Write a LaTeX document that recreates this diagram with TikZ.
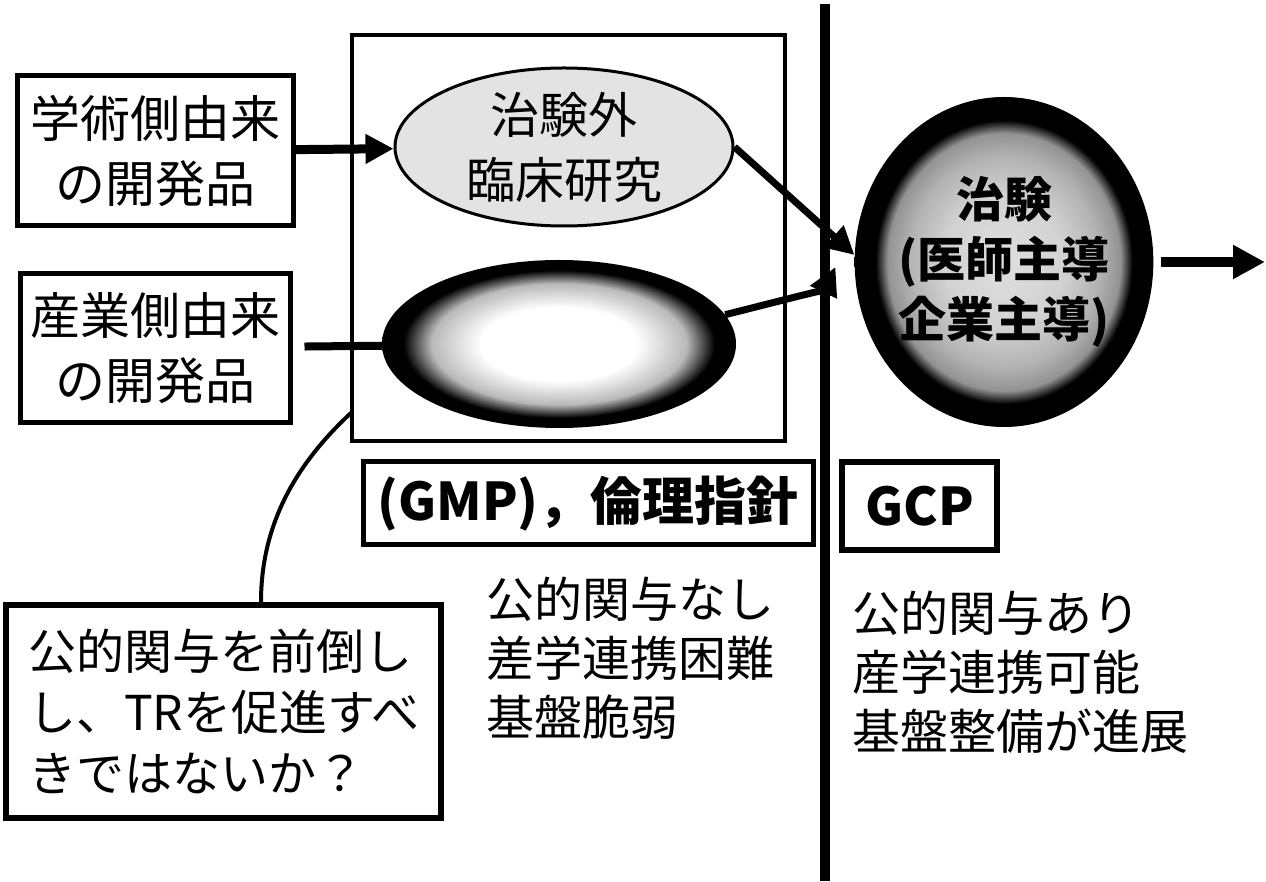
\documentclass[tikz,border=0pt]{standalone}
\usepackage{fontspec}
\usepackage{tikz}
\usetikzlibrary{shapes.geometric, arrows.meta, positioning, calc}
\newfontfamily\jpfont{Noto Sans CJK JP}

\pgfdeclareradialshading{darkrim}{\pgfpointorigin}{color(0bp)=(white); color(11bp)=(white); color(18bp)=(gray!55); color(22bp)=(black); color(25bp)=(black); color(50bp)=(black)}
\pgfdeclareradialshading{trialrim}{\pgfpointorigin}{color(0bp)=(gray!25); color(10bp)=(gray!35); color(16bp)=(gray!60); color(19.5bp)=(gray!85); color(21.5bp)=(black); color(50bp)=(black)}

\tikzset{
  srcbox/.style={draw, line width=5pt, align=center, inner sep=0pt, font=\jpfont\fontsize{50}{65}\selectfont},
  rulebox/.style={draw, inner sep=0pt, font=\jpfont\bfseries\fontsize{52}{60}\selectfont},
  plain/.style={anchor=west, align=left, inner sep=0pt, font=\jpfont\fontsize{48}{59}\selectfont},
  arr/.style={-{Triangle[length=28pt, width=28pt]}},
  bigarr/.style={-{Triangle[length=32pt, width=32pt]}}
}

\begin{document}
\begin{tikzpicture}[x=1pt, y=1pt]
\useasboundingbox (0,0) rectangle (1266,881);

% sources
\node[srcbox, minimum width=276pt, minimum height=150pt] (acad) at (155,730) {学術側由来\\の開発品};
\node[srcbox, minimum width=270pt, minimum height=149pt] (ind) at (155,533) {産業側由来\\の開発品};

% outside the trials
\draw[line width=4pt] (352,440) rectangle (785,846);
\node[ellipse, draw, line width=3pt, fill=gray!22, minimum width=338pt, minimum height=158pt, inner sep=0pt, align=center, font=\jpfont\fontsize{49}{65}\selectfont] (clin) at (564,734) {治験外\\臨床研究};
\node[ellipse, shading=darkrim, minimum width=354pt, minimum height=168pt] (dark) at (559,537) {};
\coordinate (edge) at (352,469);

% separator
\draw[line width=10pt] (825,877) -- (825,0);

% trials
\node[ellipse, shading=trialrim, minimum width=276pt, minimum height=330pt, inner sep=0pt, align=center, font=\jpfont\bfseries\fontsize{48}{60}\selectfont] (trial) at (1004,619) {治験\\(医師主導\\企業主導)};
\coordinate (next) at (1265,619);

% arrows
\draw[arr, line width=9pt] (acad) -- (clin);
\draw[line width=8pt, shorten <=12pt] (ind) -- (dark);
\draw[arr, line width=7pt] (clin.east) -- ([yshift=7pt]trial.west);
\draw[arr, line width=7pt] (dark.10) .. controls (780,580) and (825,592) .. ([shift={(-19pt,-5pt)}]trial.west);
\draw[bigarr, line width=10pt, shorten <=7pt] (trial) -- (next);

% rules
\node[rulebox, line width=5pt, minimum width=450pt, minimum height=83pt] (gmp) at (588,377.5) {(GMP)，倫理指針};
\node[rulebox, line width=6pt, minimum width=155pt, minimum height=88pt] (gcp) at (919.5,375) {GCP};

% notes
\node[plain] (nopub) at (486,223) {公的関与なし\\差学連携困難\\基盤脆弱};
\node[plain] (pub) at (852,209) {公的関与あり\\産学連携可能\\基盤整備が進展};

% question
\node[draw, line width=6pt, text width=391pt, inner xsep=22pt, inner ysep=0pt, minimum height=213pt, align=left, font=\jpfont\fontsize{48}{61}\selectfont] (ask) at (223.5,169.5) {公的関与を前倒し\\し、TRを促進すべ\\きではないか？};
\draw[line width=4pt] (edge) .. controls (300,421) and (261,361) .. ([xshift=37.5pt]ask.north);
\end{tikzpicture}
\end{document}
